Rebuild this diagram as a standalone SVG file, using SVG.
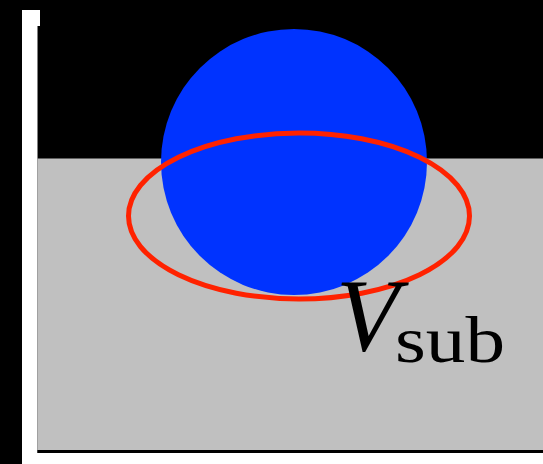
<svg xmlns="http://www.w3.org/2000/svg" width="543" height="464" viewBox="0 0 543 464">
  <style>
    .lbl { font-family: "Liberation Serif", "DejaVu Serif", serif; fill: #000; }
  </style>
  <rect x="0" y="0" width="543" height="464" fill="#000"/>
  <g id="wall">
    <rect x="22" y="10" width="18" height="16" fill="#fff"/>
    <rect x="22" y="10" width="15.5" height="454" fill="#fff"/>
    <rect x="22" y="453" width="521" height="11" fill="#fff"/>
  </g>
  <g id="liquid">
    <rect x="37.5" y="158.5" width="505.5" height="291.5" fill="#c0c0c0"/>
    <rect x="37.5" y="450" width="505.5" height="3" fill="#000"/>
  </g>
  <g id="sphere">
    <circle cx="294" cy="162" r="133" fill="#0033ff"/>
  </g>
  <g id="ellipse">
    <ellipse cx="299" cy="216" rx="170.5" ry="83" fill="none" stroke="#ff2200" stroke-width="5"/>
  </g>
  <g id="label">
    <text class="lbl" x="336" y="350" font-size="103" font-style="italic">V</text>
    <text class="lbl" x="395" y="362" font-size="66" textLength="110" lengthAdjust="spacingAndGlyphs">sub</text>
  </g>
</svg>
